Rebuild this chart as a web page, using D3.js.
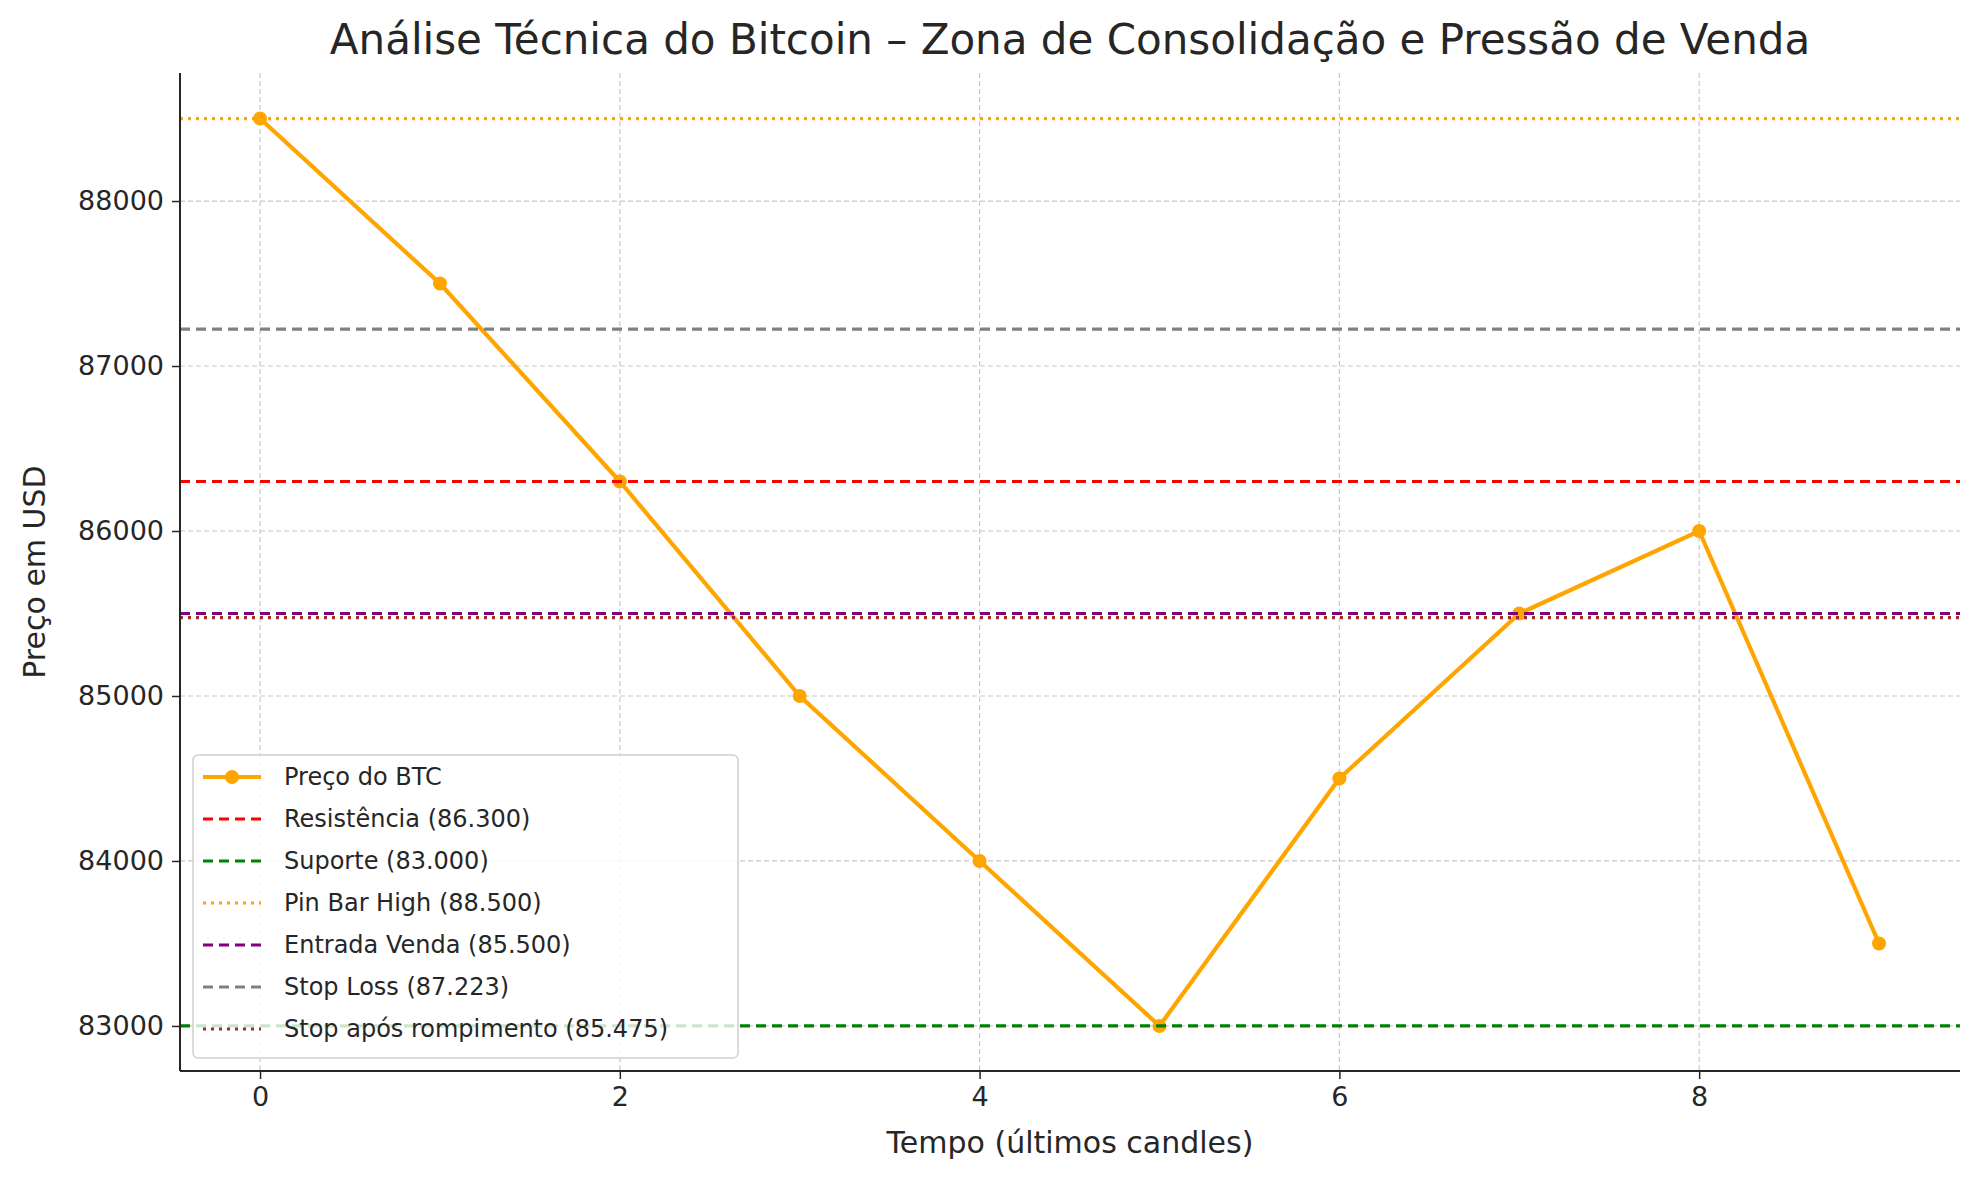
<!DOCTYPE html>
<html><head><meta charset="utf-8">
<script src="https://cdn.jsdelivr.net/npm/d3@7"></script>
<style>body{margin:0;background:#fff}text{font-family:"DejaVu Sans",sans-serif;fill:#262626}</style>
</head><body>
<script>
const times = [0,1,2,3,4,5,6,7,8,9];
const prices = [88500,87500,86300,85000,84000,83000,84500,85500,86000,83500];
const levelNames = ["Resistência (86.300)","Suporte (83.000)","Pin Bar High (88.500)","Entrada Venda (85.500)","Stop Loss (87.223)","Stop após rompimento (85.475)"];
const levelValues = [86300,83000,88500,85500,87223,85475];
const levelColors = ["red","green","orange","purple","gray","brown"];
const levelDash = ["10,6","10,6","3,5","10,6","10,6","3,5"];
const xTicks = [0,2,4,6,8];
const yTicks = [83000,84000,85000,86000,87000,88000];

const W = 1979, H = 1180;
const m = {l:180, r:W-1960, t:73, b:H-1071};
const svg = d3.select("body").append("svg").attr("width",W).attr("height",H);
const x = d3.scaleLinear().domain([-0.445,9.45]).range([m.l,W-m.r]);
const y = d3.scaleLinear().domain([82727,88776]).range([H-m.b,m.t]);

// grid
svg.append("g").selectAll("line").data(xTicks).join("line")
  .attr("x1",d=>x(d)).attr("x2",d=>x(d)).attr("y1",m.t).attr("y2",H-m.b)
  .attr("stroke","#c8c8c8").attr("stroke-dasharray","5,3").attr("stroke-width",1.2);
svg.append("g").selectAll("line").data(yTicks).join("line")
  .attr("y1",d=>y(d)).attr("y2",d=>y(d)).attr("x1",m.l).attr("x2",W-m.r)
  .attr("stroke","#c8c8c8").attr("stroke-dasharray","5,3").attr("stroke-width",1.2);

// price line (drawn first, levels on top as in matplotlib order? price first)
const line = d3.line().x((d,i)=>x(times[i])).y(d=>y(d));
svg.append("path").datum(prices).attr("d",line).attr("fill","none")
  .attr("stroke","orange").attr("stroke-width",4.2);
svg.append("g").selectAll("circle").data(prices).join("circle")
  .attr("cx",(d,i)=>x(times[i])).attr("cy",d=>y(d)).attr("r",7).attr("fill","orange");

// levels
svg.append("g").selectAll("line").data(levelValues).join("line")
  .attr("x1",m.l).attr("x2",W-m.r).attr("y1",d=>y(d)).attr("y2",d=>y(d))
  .attr("stroke",(d,i)=>levelColors[i]).attr("stroke-width",3.2)
  .attr("stroke-dasharray",(d,i)=>levelDash[i]);

// axes
const xa = svg.append("g").attr("transform",`translate(0,${H-m.b})`)
  .call(d3.axisBottom(x).tickValues(xTicks).tickSize(8).tickPadding(8));
const ya = svg.append("g").attr("transform",`translate(${m.l},0)`)
  .call(d3.axisLeft(y).tickValues(yTicks).tickFormat(d3.format("d")).tickSize(8).tickPadding(8));
[xa,ya].forEach(a=>{a.selectAll("text").style("font-size","27px").attr("fill","#262626");
  a.selectAll("line").attr("stroke","#262626").attr("stroke-width",1.5);
  a.select(".domain").attr("stroke","#262626").attr("stroke-width",2);});
xa.select(".domain").attr("d",`M${m.l},0H${W-m.r}`);
ya.select(".domain").attr("d",`M0,${H-m.b}V${m.t}`);

svg.append("text").attr("x",(m.l+W-m.r)/2).attr("y",54).attr("text-anchor","middle")
  .style("font-size","42px").text("Análise Técnica do Bitcoin – Zona de Consolidação e Pressão de Venda");
svg.append("text").attr("x",(m.l+W-m.r)/2).attr("y",1153).attr("text-anchor","middle")
  .style("font-size","30px").text("Tempo (últimos candles)");
svg.append("text").attr("transform",`translate(45,${(m.t+H-m.b)/2}) rotate(-90)`).attr("text-anchor","middle")
  .style("font-size","30px").text("Preço em USD");

// legend
const lg = svg.append("g").attr("transform","translate(193,755)");
lg.append("rect").attr("width",545).attr("height",303).attr("rx",5)
  .attr("fill","white").attr("fill-opacity",0.8).attr("stroke","#d0d0d0").attr("stroke-width",1.5);
const names = ["Preço do BTC"].concat(levelNames);
names.forEach((n,i)=>{
  const yy = 22 + i*42;
  const col = i===0 ? "orange" : levelColors[i-1];
  lg.append("line").attr("x1",10).attr("x2",68).attr("y1",yy).attr("y2",yy)
    .attr("stroke",col).attr("stroke-width",i===0?4.2:3.2)
    .attr("stroke-dasharray",i===0?null:levelDash[i-1]);
  if(i===0) lg.append("circle").attr("cx",39).attr("cy",yy).attr("r",7).attr("fill","orange");
  lg.append("text").attr("x",91).attr("y",yy+8).style("font-size","24px").text(n);
});
</script>
</body></html>
